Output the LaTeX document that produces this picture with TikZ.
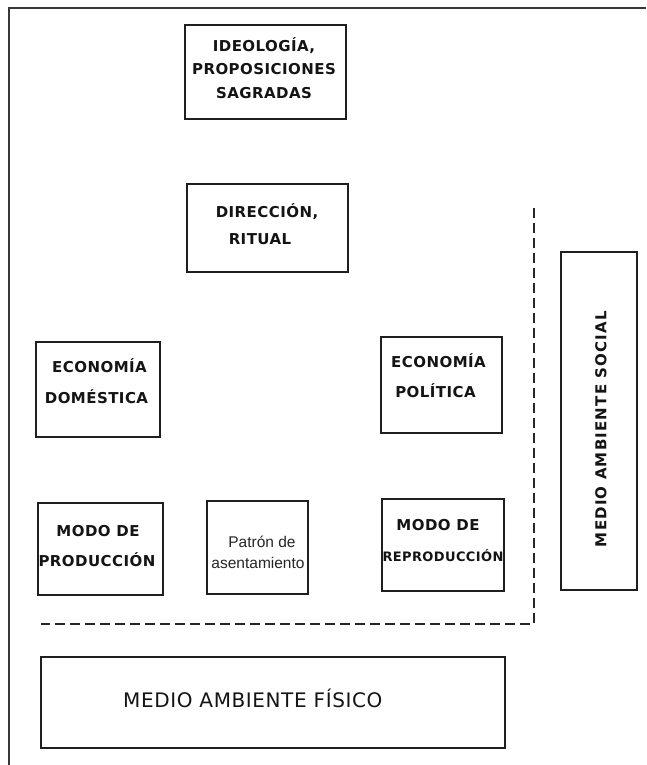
\documentclass[tikz,border=0pt]{standalone}
\usepackage{fontspec}
\setmainfont{DejaVu Sans}
\newfontfamily\capsfont[LetterSpace=3]{DejaVu Sans}
\newfontfamily\widecaps[LetterSpace=8]{DejaVu Sans}
\newfontfamily\plainfont{Liberation Sans}
\begin{document}
\begin{tikzpicture}[x=1pt,y=-1pt,
  box/.style={draw=black!88, line width=1.8pt, inner sep=0pt, rectangle},
  lbl/.style={font=\capsfont\bfseries\fontsize{15}{18}\selectfont, inner sep=0pt, anchor=base, text=black!92},
  plbl/.style={font=\plainfont\fontsize{15.5}{19}\selectfont, inner sep=0pt, anchor=base, text=black!85},
  dashline/.style={draw=black!85, line width=1.6pt, dash pattern=on 10pt off 5pt},
  frame/.style={draw=black!78, line width=1.6pt}]
\useasboundingbox (0,0) rectangle (646,765);
\fill[white] (0,0) rectangle (646,765);

% outer frame
\coordinate (ftr) at (646,8);
\coordinate (ftl) at (9,8);
\coordinate (fbl) at (9,765);
\draw[frame] (ftr) -- (ftl) -- (fbl);

% boxes
\node[box, minimum width=161, minimum height=94] (ideo) at (265.5,72) {};
\node[box, minimum width=161, minimum height=88] (dir) at (267.5,228) {};
\node[box, minimum width=124, minimum height=95] (ecod) at (98,389.5) {};
\node[box, minimum width=121, minimum height=96] (ecop) at (441.5,385) {};
\node[box, minimum width=125, minimum height=92] (modp) at (100.5,549) {};
\node[box, minimum width=101, minimum height=93] (pat) at (257.5,547.5) {};
\node[box, minimum width=122, minimum height=92] (modr) at (443,545) {};
\node[box, minimum width=76, minimum height=338] (mas) at (599,421) {};
\node[box, minimum width=464, minimum height=91] (maf) at (273,702.5) {};

% labels
\node[lbl] (ideo1) at (264,52) {IDEOLOGÍA,};
\node[lbl] (ideo2) at (264,75) {PROPOSICIONES};
\node[lbl] (ideo3) at (264,99) {SAGRADAS};

\node[lbl] (dir1) at (267,217) {DIRECCIÓN,};
\node[lbl] (dir2) at (260,244) {RITUAL};

\node[lbl] (ecod1) at (99.5,372) {ECONOMÍA};
\node[lbl] (ecod2) at (96.5,403) {DOMÉSTICA};

\node[lbl] (ecop1) at (438.5,367) {ECONOMÍA};
\node[lbl] (ecop2) at (435.5,397) {POLÍTICA};

\node[lbl] (modp1) at (98,536) {MODO DE};
\node[lbl] (modp2) at (97,566) {PRODUCCIÓN};

\node[plbl] (pat1) at (262,547) {Patrón de};
\node[plbl] (pat2) at (258,568) {asentamiento};

\node[lbl] (modr1) at (438,530) {MODO DE};
\node[lbl, font=\capsfont\bfseries\fontsize{13}{16}\selectfont] (modr2) at (443,561) {REPRODUCCIÓN};

\node[inner sep=0pt, rotate=90, font=\widecaps\bfseries\fontsize{15}{18}\selectfont, text=black!92] (mast) at (601,429) {MEDIO AMBIENTE SOCIAL};

\node[inner sep=0pt, anchor=base west, font=\capsfont\fontsize{20}{24}\selectfont, text=black!92] (maft) at (123,707) {MEDIO AMBIENTE FÍSICO};

% dashed boundary
\coordinate (dtop) at (534,208);
\coordinate (dcorner) at (534,624);
\coordinate (dleft) at (41,624);
\draw[dashline] (dtop) -- (dcorner) -- (dleft);
\end{tikzpicture}
\end{document}
